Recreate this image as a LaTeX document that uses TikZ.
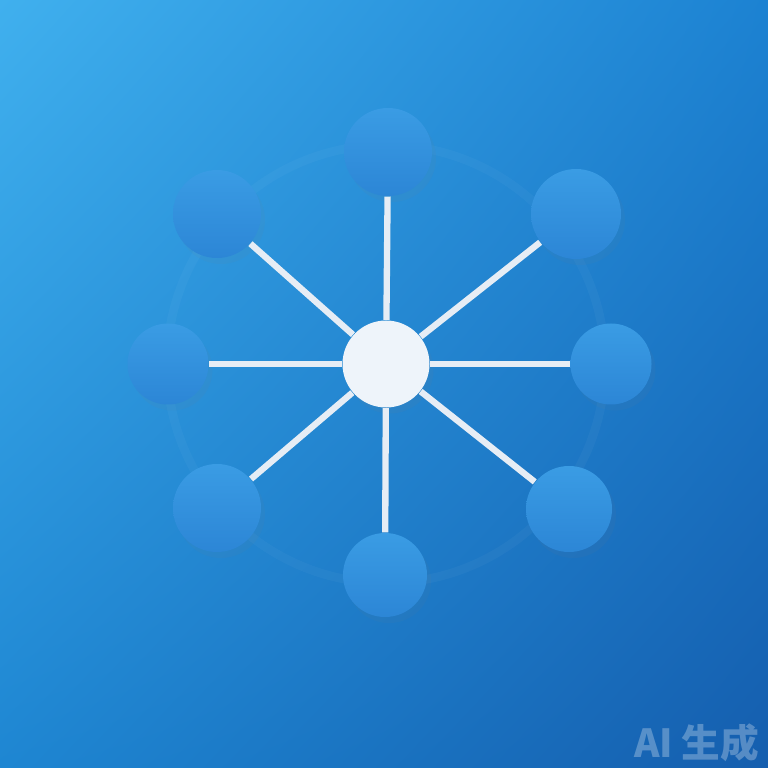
\documentclass[tikz,border=0pt]{standalone}
\usepackage{fontspec}
\newfontfamily\cjkfont{Noto Sans CJK SC}
\usetikzlibrary{positioning,shadows,shadings}

\definecolor{bgtl}{HTML}{40B0EE}
\definecolor{bgtr}{HTML}{1C82D2}
\definecolor{bgbl}{HTML}{1E86D2}
\definecolor{bgbr}{HTML}{155EAE}
\definecolor{leaftop}{HTML}{3A9CE4}
\definecolor{leafbot}{HTML}{2C86D6}
\definecolor{spokegrey}{HTML}{E6EDF5}
\definecolor{hubwhite}{HTML}{EEF4FA}

\begin{document}
\begin{tikzpicture}[x=0.1mm,y=-0.1mm]

\tikzstyle{hubnode} = [circle, fill=hubwhite, minimum size=8.7mm, inner sep=0pt, drop shadow={opacity=0.08, shadow xshift=0.4mm, shadow yshift=-0.6mm}]
\tikzstyle{leafnode} = [circle, top color=leaftop, bottom color=leafbot, minimum size=8.8mm, inner sep=0pt, drop shadow={opacity=0.07, shadow xshift=0.4mm, shadow yshift=-0.6mm}]
\tikzstyle{spoke} = [draw=spokegrey, line width=1.8pt]
\tikzstyle{ring} = [draw=white, opacity=0.03, line width=2.5pt]

% background
\useasboundingbox (0,0) rectangle (768,768);
\shade[upper left=bgtl, upper right=bgtr, lower left=bgbl, lower right=bgbr] (0,0) rectangle (768,768);

\coordinate (c) at (386,364);
\path[ring] (c) circle [radius=21.9mm];

% hub and leaves
\node (hub) [hubnode] at (c) {};
\node (p1) [leafnode] at (388,152) {};
\node (p2) [leafnode, minimum size=9mm] at (576,214) {};
\node (p3) [leafnode, minimum size=8.1mm] at (611,364) {};
\node (p4) [leafnode, minimum size=8.6mm] at (569,509) {};
\node (p5) [leafnode, minimum size=8.4mm] at (385,575) {};
\node (p6) [leafnode] at (217,508) {};
\node (p7) [leafnode, minimum size=8.1mm] at (168,364) {};
\node (p8) [leafnode] at (217,214) {};

% spokes
\path[spoke] (hub) -- (p1);
\path[spoke] (hub) -- (p2);
\path[spoke] (hub) -- (p3);
\path[spoke] (hub) -- (p4);
\path[spoke] (hub) -- (p5);
\path[spoke] (hub) -- (p6);
\path[spoke] (hub) -- (p7);
\path[spoke] (hub) -- (p8);

\node (mark) [anchor=south east, inner sep=0pt, text=white, opacity=0.28, font=\cjkfont\bfseries\fontsize{11}{11}\selectfont] at (760,762) {AI 生成};

\end{tikzpicture}
\end{document}
